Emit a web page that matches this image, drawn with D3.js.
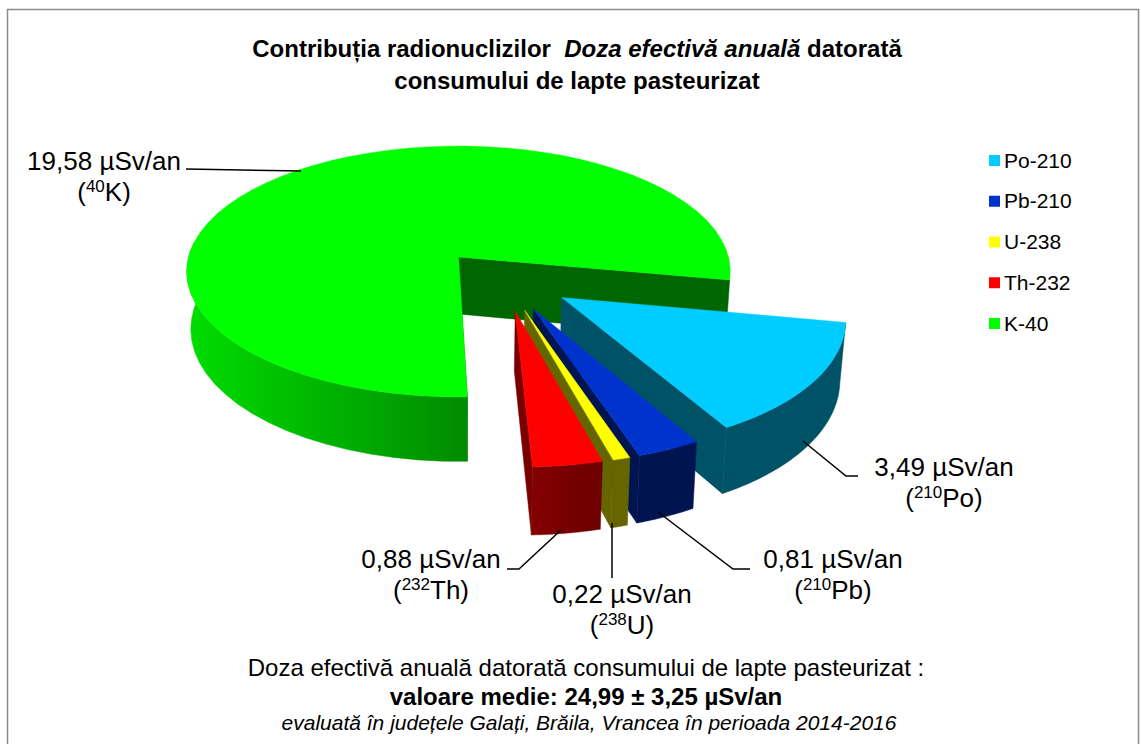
<!DOCTYPE html>
<html><head><meta charset="utf-8">
<script src="https://cdnjs.cloudflare.com/ajax/libs/d3/7.8.5/d3.min.js"></script>
<style>html,body{margin:0;padding:0;background:#fff}svg{display:block}text{font-family:"Liberation Sans",Arial,sans-serif;fill:#000}</style>
</head><body><svg id="c" width="1141" height="744"></svg>
<script>
const categories=["Po-210","Pb-210","U-238","Th-232","K-40"];
const values=[3.49,0.81,0.22,0.88,19.58];
const massNumbers=["210","210","238","232","40"];
const symbols=["Po","Pb","U","Th","K"];
const topColors=["#00CCFF","#0033CC","#FFFF00","#FF0000","#00FF00"];
const sideColors=["#005266","#001452","#666600","#7A0000","#006600"];

const svg=d3.select("#c");
const defs=svg.append("defs");
svg.append("rect").attr("x",7.5).attr("y",9.5).attr("width",1131).attr("height",760).attr("fill","#fff").attr("stroke","#8c8c8c").attr("stroke-width",1.5);

// perspective plane -> screen
const ox=458.5,oy=257,R=270,k=123.8,p=0.1155,depth=57,shrink=0.985;
const cu=0.165,cv=0.17,expl=0.25;
const top3=(u,v)=>{const s=1/(1-p*v);return [ox+R*u*s,oy+k*v*s,s];};
const bot3=(u,v)=>{const [x,y,s]=top3(u,v);return [ox+(x-ox)*shrink,y+depth*s];};

const rad=d3.scaleLinear().domain([0,360]).range([0,2*Math.PI]);
const arcs=d3.pie().sort(null).startAngle(rad(100.5)).endAngle(rad(460.5))(values);
const line=d3.line();

arcs.forEach((a,i)=>{
  const mid=(a.startAngle+a.endAngle)/2;
  a.ax=cu+expl*Math.sin(mid);a.ay=cv-expl*Math.cos(mid);
  if(i===4){a.ax=0;a.ay=0;}
  a.pt=(t)=>[a.ax+Math.sin(t),a.ay-Math.cos(t)];
  a.samples=d3.range(0,61).map(j=>a.startAngle+(a.endAngle-a.startAngle)*j/60);
});

// K side gradient
const g=defs.append("linearGradient").attr("id","kside").attr("gradientUnits","userSpaceOnUse").attr("x1",190).attr("x2",462).attr("y1",0).attr("y2",0);
g.append("stop").attr("offset",0).attr("stop-color","#00DC00");
g.append("stop").attr("offset",1).attr("stop-color","#008C00");
const g2=defs.append("linearGradient").attr("id","thside").attr("gradientUnits","userSpaceOnUse").attr("x1",526).attr("x2",596).attr("y1",0).attr("y2",0);
g2.append("stop").attr("offset",0).attr("stop-color","#860000");
g2.append("stop").attr("offset",1).attr("stop-color","#6E0000");

function wallOuter(a,from,to,fill){
  const ts=a.samples.filter(t=>t>=from&&t<=to);
  const pts=ts.map(t=>top3(...a.pt(t)).slice(0,2)).concat(ts.slice().reverse().map(t=>bot3(...a.pt(t))));
  gMarks.append("path").attr("d",line(pts)+"Z").attr("fill",fill).attr("stroke",fill).attr("stroke-width",.5);
}
function wallCut(a,t,fill){
  const [u,v]=a.pt(t);
  const pts=[top3(a.ax,a.ay).slice(0,2),top3(u,v).slice(0,2),bot3(u,v),bot3(a.ax,a.ay)];
  gMarks.append("path").attr("d",line(pts)+"Z").attr("fill",fill).attr("stroke",fill).attr("stroke-width",.5);
}
function topFace(a,fill){
  const pts=[top3(a.ax,a.ay).slice(0,2)].concat(a.samples.map(t=>top3(...a.pt(t)).slice(0,2)));
  gMarks.append("path").attr("d",line(pts)+"Z").attr("fill",fill).attr("stroke",fill).attr("stroke-width",.4);
}
const gMarks=svg.append("g");
// K first, then slices from back to front
const K=arcs[4];
wallCut(K,K.endAngle,sideColors[4]);
wallCut(K,K.startAngle,"#008C00");
wallOuter(K,K.startAngle,K.startAngle+Math.PI*0.55,"url(#kside)");
topFace(K,topColors[4]);
[0,1,2,3].forEach(i=>{
  const a=arcs[i];
  wallCut(a,a.endAngle,sideColors[i]);
  wallOuter(a,a.startAngle,a.endAngle,i===3?"url(#thside)":sideColors[i]);
  topFace(a,topColors[i]);
});

// leader lines
const leaderPts=[
 [[858,478],[841,478],[803,438]],
 [[750,569],[733,569],[658,512]],
 [[612,578],[612,523]],
 [[507,569],[519,569],[561,530]],
 [[186,169],[301,171]]
];
// fix Po line to match reference course
leaderPts[0]=[[858,476],[846,476],[803,441]];
svg.append("g").selectAll("path").data(leaderPts).join("path").attr("d",d=>line(d)).attr("fill","none").attr("stroke","#000").attr("stroke-width",1.5);

// titles
const title=svg.append("text").attr("text-anchor","middle").attr("font-size",24).attr("font-weight","bold");
const t1=title.append("tspan").attr("x",577).attr("y",57);
t1.append("tspan").text("Contribuția radionuclizilor  ").attr("xml:space","preserve");
t1.append("tspan").attr("font-style","italic").text("Doza efectivă anuală");
t1.append("tspan").text(" datorată");
title.append("tspan").attr("x",577).attr("y",89).text("consumului de lapte pasteurizat");

// data labels
const labelPos=[[944,476],[833,568],[622,603],[431,568],[104,170]];
const fmt=v=>v.toFixed(2).replace(".",",")+" µSv/an";
categories.forEach((c,i)=>{
  const [x,y]=labelPos[i];
  const tx=svg.append("text").attr("text-anchor","middle").attr("font-size",26);
  tx.append("tspan").attr("x",x).attr("y",y).text(fmt(values[i]));
  const l2=tx.append("tspan").attr("x",x).attr("y",y+31);
  l2.append("tspan").text("(");
  l2.append("tspan").attr("font-size",17).attr("dy",-9).text(massNumbers[i]);
  l2.append("tspan").attr("dy",9).text(symbols[i]+")");
});

// legend
const legY=d3.scalePoint().domain(categories).range([160,323]);
const leg=svg.append("g").selectAll("g").data(categories).join("g");
leg.append("rect").attr("x",989).attr("y",c=>legY(c)-5).attr("width",11).attr("height",11).attr("fill",(c,i)=>topColors[i]);
leg.append("text").attr("x",1004).attr("y",c=>legY(c)+7.5).attr("font-size",21).text(c=>c);

// footer
svg.append("text").attr("x",586).attr("y",676).attr("text-anchor","middle").attr("font-size",24).text("Doza efectivă anuală datorată consumului de lapte pasteurizat :");
svg.append("text").attr("x",586).attr("y",705).attr("text-anchor","middle").attr("font-size",24).attr("font-weight","bold").text("valoare medie: 24,99 ± 3,25 µSv/an");
svg.append("text").attr("x",589).attr("y",730).attr("text-anchor","middle").attr("font-size",21).attr("font-style","italic").text("evaluată în județele Galați, Brăila, Vrancea în perioada 2014-2016");
</script></body></html>
